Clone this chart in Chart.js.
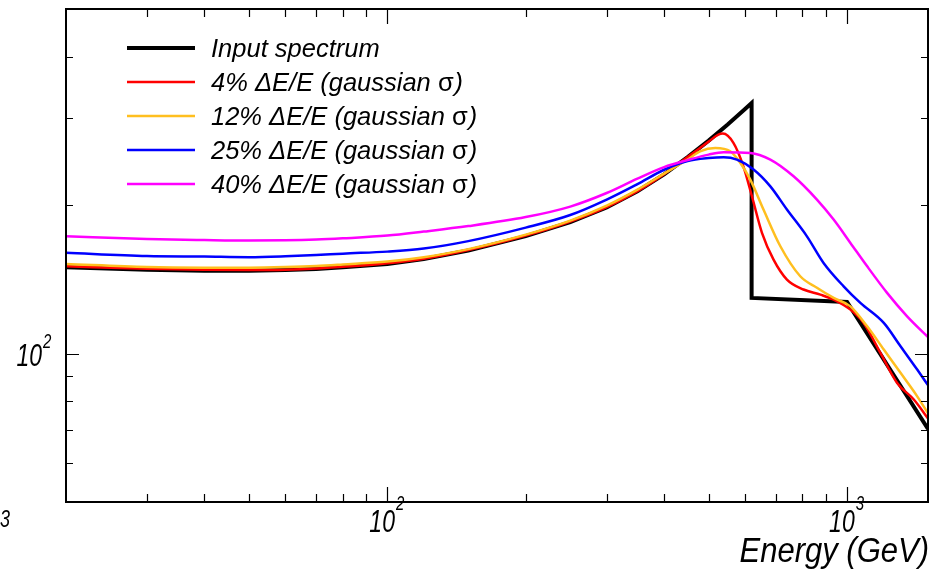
<!DOCTYPE html>
<html>
<head>
<meta charset="utf-8">
<script src="https://cdn.jsdelivr.net/npm/chart.js@4/dist/chart.umd.min.js"></script>
<style>
html,body{margin:0;padding:0;background:#fff;}
canvas{display:block;}
</style>
</head>
<body>
<canvas id="c" width="948" height="569"></canvas>
<script>
// ---- data (Energy in GeV, y in arbitrary units) ----
const seriesLabels = ["Input spectrum", "4% \u0394E/E (gaussian \u03c3)", "12% \u0394E/E (gaussian \u03c3)", "25% \u0394E/E (gaussian \u03c3)", "40% \u0394E/E (gaussian \u03c3)"];

const inputE = [20,30,40,50,60,70,80,100,120,150,200,250,300,350,400,450,500,550,600,620,620,1000,1500];
const inputY = [149.6,148.0,147.3,147.3,147.7,148.5,149.6,151.9,155.5,161.8,173.1,184.8,197.8,213.5,231.0,250.4,270.4,291.4,313.3,322.2,129.7,127.3,70.3];

const res4E = [20,30,40,50,60,70,80,100,120,150,200,250,300,350,400,450,500,525,537,566,595,621,653,692,740,804,875,935,1017,1087,1182,1285,1397,1506];
const res4Y = [150.3,148.7,148.0,147.8,148.0,148.8,150.0,152.5,155.8,162.2,173.5,185.3,198.2,213.6,231.2,250.4,269.2,278.2,279.5,267.6,239.8,208.5,175.8,155.1,141.3,134.9,131.7,128.7,122.8,115.4,100.3,87.2,80.7,73.5];

const res12E = [20,30,40,50,60,70,80,100,120,150,200,250,300,350,400,450,479,517,557,586,616,658,716,791,860,935,1017,1106,1202,1307,1421,1506];
const res12Y = [152.0,149.8,149.4,149.4,149.8,150.5,151.6,153.7,156.9,162.9,174.3,186.1,199.6,215.1,231.8,247.5,257.2,261.3,257.2,243.6,225.4,196.0,165.1,143.5,136.0,129.7,124.7,113.6,101.9,91.4,81.9,75.2];

const res25E = [20,30,40,50,60,70,80,100,120,150,200,250,300,350,400,450,500,539,576,626,681,740,818,889,983,1069,1202,1307,1421,1506];
const res25Y = [160.1,157.7,157.3,156.9,157.5,158.4,159.5,161.0,163.3,169.1,180.1,191.0,205.3,220.7,236.0,245.7,249.2,250.2,247.5,236.3,218.4,196.0,172.9,152.7,136.9,126.7,115.4,103.5,92.8,85.8];

const res40E = [20,30,40,50,60,70,80,100,120,150,200,250,300,350,400,450,500,539,616,681,765,860,935,1017,1106,1222,1351,1506];
const res40Y = [172.9,170.7,169.9,169.5,169.7,170.3,171.3,173.5,176.8,181.4,189.2,198.7,211.7,226.4,238.9,246.9,253.3,256.1,255.3,247.5,228.9,205.3,187.0,167.7,150.3,132.8,119.0,107.6];

const xMajor = [100, 1000];
const xMinor = [30,40,50,60,70,80,90,200,300,400,500,600,700,800,900];
const yMajor = [100];
const yMinor = [60,70,80,90,200,300,400];
const xTickLabels = [{v:100, base:"10", exp:"2"}, {v:1000, base:"10", exp:"3"}];
const yTickLabels = [{v:100, base:"10", exp:"2"}];
const xTitle = "Energy (GeV)";

// ---- build ----
function pts(E, Y){ return E.map((e,i)=>({x:e, y:Y[i]})); }
const colors = ["#000000", "#ff0000", "#ffbf1f", "#0000ff", "#ff00ff"];
const widths = [4, 2.5, 2.5, 2.5, 2.5];
const allE = [inputE, res4E, res12E, res25E, res40E];
const allY = [inputY, res4Y, res12Y, res25Y, res40Y];

const datasets = seriesLabels.map((lab,i)=>({
  label: lab,
  data: pts(allE[i], allY[i]),
  borderColor: colors[i],
  backgroundColor: colors[i],
  borderWidth: widths[i],
  pointRadius: 0,
  fill: false,
  tension: i===0 ? 0 : 0.35,
  cubicInterpolationMode: i===0 ? 'default' : 'monotone',
  borderJoinStyle: 'miter',
  order: 5 - i
}));

const FONT = '"Liberation Sans", Arial, Helvetica, sans-serif';

// draws text stretched vertically (condensed look), baseline at y
function tallText(c, txt, x, y, size, sy, italic, align){
  c.save();
  c.font = (italic ? 'italic ' : '') + size + 'px ' + FONT;
  c.textAlign = align || 'left';
  c.textBaseline = 'alphabetic';
  c.translate(x, y);
  c.scale(1, sy);
  c.fillText(txt, 0, 0);
  c.restore();
}
function textW(c, txt, size, italic){
  c.save();
  c.font = (italic ? 'italic ' : '') + size + 'px ' + FONT;
  const w = c.measureText(txt).width;
  c.restore();
  return w;
}

const decor = {
  id: 'decor',
  beforeDraw(chart){
    const c = chart.ctx;
    c.save(); c.fillStyle = '#fff'; c.fillRect(0,0,chart.width,chart.height); c.restore();
  },
  afterDraw(chart){
    const c = chart.ctx;
    const a = chart.chartArea;
    const xs = chart.scales.x, ys = chart.scales.y;
    c.save();
    c.strokeStyle = '#000';
    c.lineWidth = 1.2;
    // ticks (inside, mirrored on opposite sides)
    c.beginPath();
    const tickX = (v, len) => {
      const px = Math.round(xs.getPixelForValue(v)) + 0.5;
      c.moveTo(px, a.bottom); c.lineTo(px, a.bottom - len);
      c.moveTo(px, a.top); c.lineTo(px, a.top + len);
    };
    const tickY = (v, len) => {
      const py = Math.round(ys.getPixelForValue(v)) + 0.5;
      c.moveTo(a.left, py); c.lineTo(a.left + len, py);
      c.moveTo(a.right, py); c.lineTo(a.right - len, py);
    };
    xMajor.forEach(v=>tickX(v, 15));
    xMinor.forEach(v=>tickX(v, 8));
    yMajor.forEach(v=>tickY(v, 13));
    yMinor.forEach(v=>tickY(v, 7));
    c.stroke();
    // frame
    c.lineWidth = 2;
    c.strokeRect(a.left, a.top, a.right - a.left, a.bottom - a.top);

    c.fillStyle = '#000';
    // x tick labels
    xTickLabels.forEach(t=>{
      const px = xs.getPixelForValue(t.v);
      const wb = textW(c, t.base, 23, true);
      const we = textW(c, t.exp, 15, true);
      const x0 = px - (wb + we)/2 - 1;
      tallText(c, t.base, x0, 532, 23, 1.33, true, 'left');
      tallText(c, t.exp, x0 + wb + 1, 510, 15, 1.3, true, 'left');
    });
    // y tick labels
    yTickLabels.forEach(t=>{
      const py = ys.getPixelForValue(t.v);
      tallText(c, t.base, 42, py + 12, 23, 1.33, true, 'right');
      tallText(c, t.exp, 43, py - 6, 15, 1.3, true, 'left');
    });
    // stray label fragment at bottom-left
    tallText(c, "3", 0, 527, 18, 1.3, true, 'left');

    // axis title
    tallText(c, xTitle, 929, 562, 31, 1.12, true, 'right');

    // legend
    const rowY = [48, 82, 116, 150, 184];
    chart.data.datasets.forEach((ds, i)=>{
      const y = rowY[i];
      c.strokeStyle = ds.borderColor;
      c.lineWidth = i===0 ? 4 : 2.5;
      c.beginPath(); c.moveTo(127, y); c.lineTo(195, y); c.stroke();
      c.fillStyle = '#000';
      c.textAlign = 'left';
      c.textBaseline = 'alphabetic';
      const lab = ds.label;
      const k = lab.indexOf('\u03c3');
      let x = 211;
      const base = y + 9;
      const fs = 25.5;
      if (k < 0) {
        c.font = 'italic ' + fs + 'px ' + FONT;
        c.fillText(lab, x, base);
      } else {
        const pre = lab.slice(0, k), sig = '\u03c3', post = lab.slice(k+1);
        c.font = 'italic ' + fs + 'px ' + FONT;
        c.fillText(pre, x, base); x += c.measureText(pre).width;
        c.font = fs + 'px ' + FONT;
        c.fillText(sig, x, base); x += c.measureText(sig).width + 1;
        c.font = 'italic ' + fs + 'px ' + FONT;
        c.fillText(post, x, base);
      }
    });
    c.restore();
  }
};

new Chart(document.getElementById('c'), {
  type: 'line',
  data: { datasets },
  options: {
    responsive: false,
    animation: false,
    devicePixelRatio: 1,
    layout: { padding: { left: 66, right: 20, top: 9, bottom: 67 } },
    plugins: { legend: { display: false }, tooltip: { enabled: false } },
    scales: {
      x: { type: 'logarithmic', min: 20, max: 1500, display: false },
      y: { type: 'logarithmic', min: 50, max: 500, display: false }
    }
  },
  plugins: [decor]
});
</script>
</body>
</html>
